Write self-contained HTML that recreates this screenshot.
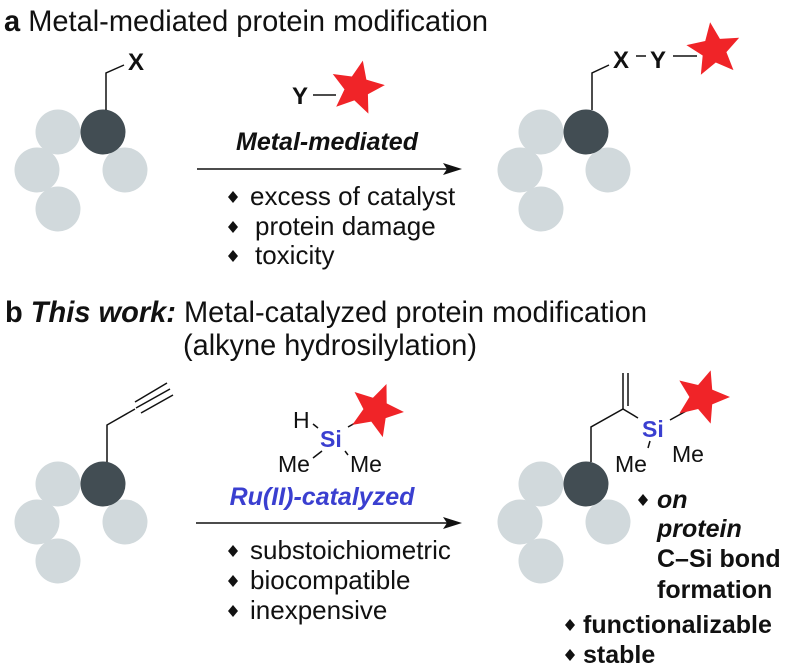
<!DOCTYPE html>
<html><head><meta charset="utf-8"><style>
html,body{margin:0;padding:0;background:#fff}
svg{display:block}
text{font-family:"Liberation Sans",Arial,sans-serif}
</style></head><body>
<svg width="785" height="668" viewBox="0 0 785 668" xmlns="http://www.w3.org/2000/svg">
<defs>
<polygon id="st" points="0,-1 0.265,-0.364 0.951,-0.309 0.428,0.139 0.588,0.809 0,0.45 -0.588,0.809 -0.428,0.139 -0.951,-0.309 -0.265,-0.364" fill="#f02428"/>
<polygon id="dm" points="0,-6 5,0 0,6 -5,0" fill="#111"/>
<g id="prot">
<circle cx="-45" cy="0" r="22.5" fill="#d1d9dc"/>
<circle cx="-66" cy="38" r="22.5" fill="#d1d9dc"/>
<circle cx="-45" cy="77" r="22.5" fill="#d1d9dc"/>
<circle cx="22" cy="38" r="22.5" fill="#d1d9dc"/>
<circle cx="0" cy="0" r="22.5" fill="#424d53"/>
</g>
</defs>
<g fill="#111" font-size="30">
<text x="4" y="31" textLength="484" lengthAdjust="spacingAndGlyphs"><tspan font-weight="bold">a</tspan> Metal-mediated protein modification</text>
<text x="5" y="322" textLength="642" lengthAdjust="spacingAndGlyphs"><tspan font-weight="bold">b</tspan> <tspan font-weight="bold" font-style="italic">This work:</tspan> Metal-catalyzed protein modification</text>
<text x="183" y="355" textLength="294" lengthAdjust="spacingAndGlyphs">(alkyne hydrosilylation)</text>
</g>
<!-- panel a left -->
<use href="#prot" x="103" y="132"/>
<polyline points="106,110 106,73 124,65" fill="none" stroke="#111" stroke-width="1.5"/>
<text x="128" y="70" font-size="24" font-weight="bold" fill="#111">X</text>
<!-- reagent a -->
<text x="292" y="104" font-size="24" font-weight="bold" fill="#111">Y</text>
<line x1="313" y1="95" x2="336" y2="95" stroke="#111" stroke-width="1.5"/>
<use href="#st" transform="translate(357,88) scale(28) rotate(12)"/>
<text x="327" y="150" font-size="25" font-weight="bold" font-style="italic" text-anchor="middle" fill="#111">Metal-mediated</text>
<line x1="197" y1="169" x2="450" y2="169" stroke="#111" stroke-width="1.5"/>
<polygon points="462,169 443,163 447,169 443,175" fill="#111"/>
<use href="#dm" x="233" y="197"/><use href="#dm" x="233" y="227"/><use href="#dm" x="233" y="256"/>
<g font-size="26" fill="#111">
<text x="250" y="205">excess of catalyst</text>
<text x="255" y="235">protein damage</text>
<text x="255" y="264">toxicity</text>
</g>
<!-- panel a right -->
<use href="#prot" x="586" y="132"/>
<polyline points="592,110 592,73 609,65" fill="none" stroke="#111" stroke-width="1.5"/>
<text x="613" y="68" font-size="24" font-weight="bold" fill="#111">X</text>
<line x1="636" y1="56" x2="646" y2="56" stroke="#111" stroke-width="1.5"/>
<text x="650" y="68" font-size="24" font-weight="bold" fill="#111">Y</text>
<line x1="673" y1="56" x2="697" y2="56" stroke="#111" stroke-width="1.5"/>
<use href="#st" transform="translate(714,50) scale(28) rotate(-8)"/>
<!-- panel b left -->
<use href="#prot" x="103" y="484"/>
<polyline points="107,462 107,425 135,409" fill="none" stroke="#111" stroke-width="1.5"/>
<line x1="135" y1="402" x2="167" y2="383" stroke="#111" stroke-width="1.5"/>
<line x1="136" y1="408" x2="170" y2="389" stroke="#111" stroke-width="1.5"/>
<line x1="141" y1="413" x2="173" y2="395" stroke="#111" stroke-width="1.5"/>
<!-- reagent b -->
<text x="293" y="428" font-size="23" fill="#111">H</text>
<line x1="313" y1="424" x2="318" y2="428" stroke="#111" stroke-width="1.5"/>
<text x="320" y="447" font-size="23" font-weight="bold" fill="#3a3fd0">Si</text>
<line x1="348" y1="427" x2="364" y2="418" stroke="#111" stroke-width="1.5"/>
<use href="#st" transform="translate(376,410) scale(28) rotate(22)"/>
<line x1="313" y1="458" x2="322" y2="451" stroke="#111" stroke-width="1.5"/>
<line x1="345" y1="451" x2="348" y2="455" stroke="#111" stroke-width="1.5"/>
<text x="278" y="472" font-size="23" fill="#111">Me</text>
<text x="350" y="472" font-size="23" fill="#111">Me</text>
<text x="322" y="505" font-size="25" font-weight="bold" font-style="italic" text-anchor="middle" fill="#3a3fd0">Ru(II)-catalyzed</text>
<line x1="196" y1="523" x2="450" y2="523" stroke="#111" stroke-width="1.5"/>
<polygon points="462,523 443,517 447,523 443,529" fill="#111"/>
<use href="#dm" x="233" y="551"/><use href="#dm" x="233" y="581"/><use href="#dm" x="233" y="611"/>
<g font-size="26" fill="#111">
<text x="250" y="559">substoichiometric</text>
<text x="250" y="589">biocompatible</text>
<text x="250" y="619">inexpensive</text>
</g>
<!-- panel b right -->
<use href="#prot" x="586" y="484"/>
<polyline points="591,462 591,427 623,409 638,418" fill="none" stroke="#111" stroke-width="1.5"/>
<line x1="623" y1="409" x2="623" y2="373" stroke="#111" stroke-width="1.5"/>
<line x1="628" y1="406" x2="628" y2="373" stroke="#111" stroke-width="1.5"/>
<text x="642" y="437" font-size="23" font-weight="bold" fill="#3a3fd0">Si</text>
<line x1="670" y1="420" x2="688" y2="410" stroke="#111" stroke-width="1.5"/>
<use href="#st" transform="translate(702,397) scale(28) rotate(18)"/>
<line x1="648" y1="448" x2="650" y2="441" stroke="#111" stroke-width="1.5"/>
<text x="615" y="472" font-size="23" fill="#111">Me</text>
<text x="672" y="462" font-size="23" fill="#111">Me</text>
<use href="#dm" x="643" y="500"/><use href="#dm" x="570" y="625"/><use href="#dm" x="570" y="655"/>
<g font-size="25" font-weight="bold" fill="#111">
<text x="657" y="508" font-style="italic">on</text>
<text x="657" y="537" font-style="italic">protein</text>
<text x="657" y="567">C–Si bond</text>
<text x="657" y="598">formation</text>
<text x="583" y="633">functionalizable</text>
<text x="583" y="663">stable</text>
</g>
</svg>
</body></html>
